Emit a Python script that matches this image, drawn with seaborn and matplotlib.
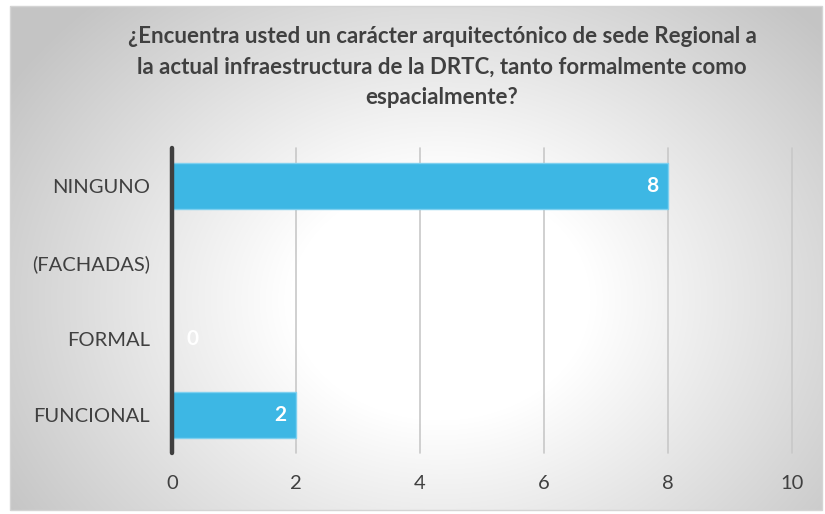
import numpy as np
import pandas as pd
import matplotlib
matplotlib.use("Agg")
import matplotlib.pyplot as plt
from matplotlib.patches import Rectangle
import seaborn as sns

categories = ["NINGUNO", "(FACHADAS)", "FORMAL", "FUNCIONAL"]
values = [8, np.nan, 0, 2]
x_ticks = [0, 2, 4, 6, 8, 10]
title = ("¿Encuentra usted un carácter arquitectónico de sede Regional a\n"
         "la actual infraestructura de la DRTC, tanto formalmente como\n"
         "espacialmente?")

sns.set_theme(style="white")
plt.rcParams["font.family"] = ["Lato", "DejaVu Sans"]

W, H, DPI = 825, 514, 100
fig = plt.figure(figsize=(W / DPI, H / DPI), dpi=DPI)
fig.patch.set_facecolor("white")

# Radial grey-to-white backdrop inside the chart frame
fx0, fy0, fx1, fy1 = 10, 6, 822, 510
bg = fig.add_axes([fx0 / W, 1 - fy1 / H, (fx1 - fx0) / W, (fy1 - fy0) / H])
bg.set_axis_off()
gx, gy = np.meshgrid(np.arange(fx0, fx1), np.arange(fy0, fy1))
r = np.hypot(gx - 440, (gy - 300) * 1.25)
t = np.clip((r - 150) / 360, 0, 1)
shade = 1 - 0.23 * t
img = np.dstack([shade, shade, shade])
bg.imshow(img, aspect="auto", extent=(0, 1, 0, 1), origin="upper")
bg.set_xlim(0, 1)
bg.set_ylim(0, 1)
fig.patches.append(Rectangle((fx0 / W, 1 - fy1 / H), (fx1 - fx0) / W, (fy1 - fy0) / H,
                             transform=fig.transFigure, fill=False,
                             edgecolor="#d4d4d4", linewidth=1.0, zorder=5))

# Plot area
px0, px1, py0, py1 = 172, 792, 148, 453
ax = fig.add_axes([px0 / W, 1 - py1 / H, (px1 - px0) / W, (py1 - py0) / H])
ax.patch.set_alpha(0)

df = pd.DataFrame({"categoria": categories, "valor": values})
sns.barplot(data=df, x="valor", y="categoria", orient="h", order=categories,
            color="#3db7e4", saturation=1, width=0.6, ax=ax,
            edgecolor="#7fd0ef", linewidth=1.0, zorder=3)

ax.set_xlim(0, 10)
ax.set_ylim(3.5, -0.5)
ax.set_xticks(x_ticks)
ax.set_xticklabels([str(v) for v in x_ticks])
for v in x_ticks[1:]:
    ax.axvline(v, color="#c8c8c8", linewidth=1.2, zorder=1, clip_on=False)
ax.axvline(0, color="#3f3f3f", linewidth=3.2, zorder=4, clip_on=False)
for s in ax.spines.values():
    s.set_visible(False)
ax.set_xlabel("")
ax.set_ylabel("")
ax.tick_params(axis="x", length=0, pad=16, labelsize=14.5, labelcolor="#404040")
ax.tick_params(axis="y", length=0, pad=16, labelsize=14.5, labelcolor="#404040")

for i, v in enumerate(values):
    if np.isnan(v):
        continue
    if v > 0:
        ax.text(v - 0.15, i, f"{v:g}", ha="right", va="center", color="white",
                fontsize=15, fontweight="bold", zorder=5)
    else:
        ax.text(0.24, i, f"{v:g}", ha="left", va="center", color="white",
                fontsize=15, fontweight="bold", zorder=5)

fig.text(442 / W, 1 - 67 / H, title, ha="center", va="center", fontsize=16,
         fontweight="bold", color="#404040", linespacing=1.55)

fig.savefig("out.png", dpi=DPI)
